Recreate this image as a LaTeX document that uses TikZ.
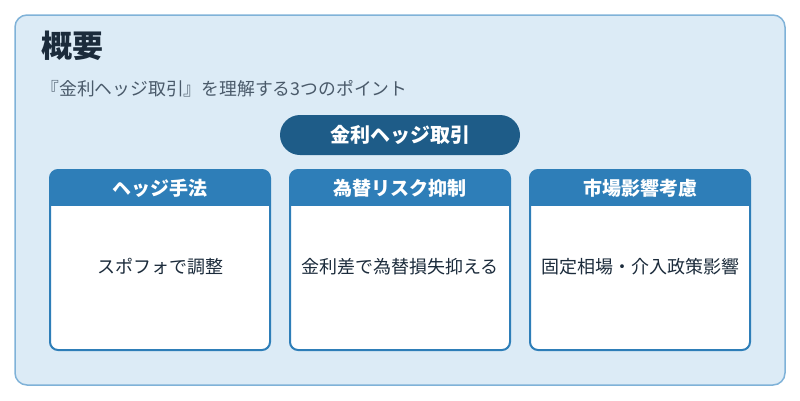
\documentclass[tikz,border=0pt]{standalone}
\usepackage{fontspec}
\setmainfont{Noto Sans CJK JP}
\definecolor{bg}{HTML}{DCEBF6}
\definecolor{bd}{HTML}{7FB2D8}
\definecolor{pill}{HTML}{1E5C88}
\definecolor{hd}{HTML}{2E7EB8}
\definecolor{ttl}{HTML}{1B2B3B}
\definecolor{sub}{HTML}{4A5A6A}
\begin{document}
\begin{tikzpicture}[x=1pt,y=-1pt,
  hdtext/.style={text=white,font=\fontsize{19}{22}\selectfont\bfseries},
  bodytext/.style={text=ttl,font=\fontsize{18}{21}\selectfont}]
\useasboundingbox (0,0) rectangle (800,400);
\draw[bd,fill=bg,line width=1.5,rounded corners=12] (15,15) rectangle (785,385);
\node[anchor=west,text=ttl,font=\fontsize{31}{34}\selectfont\bfseries] (title) at (38,46) {概要};
\node[anchor=west,text=sub,font=\fontsize{17.8}{20}\selectfont] (subtitle) at (38,89) {『金利ヘッジ取引』を理解する3つのポイント};
\fill[pill,rounded corners=20] (280,115) rectangle (520,155);
\node[text=white,font=\fontsize{20}{22}\selectfont\bfseries] (pilltext) at (400,135) {金利ヘッジ取引};
\foreach \x/\h/\b/\n in {50/ヘッジ手法/スポフォで調整/a,290/為替リスク抑制/金利差で為替損失抑える/b,530/市場影響考慮/固定相場・介入政策影響/c}{
  \draw[hd,fill=white,line width=2,rounded corners=8] (\x,170) rectangle (\x+220,350);
  \fill[hd,rounded corners=8] (\x,170) rectangle (\x+220,205);
  \fill[hd] (\x,190) rectangle (\x+220,206);
  \node[hdtext] (h\n) at (\x+110,188) {\h};
  \node[bodytext] (b\n) at (\x+110,267) {\b};
}
\end{tikzpicture}
\end{document}
